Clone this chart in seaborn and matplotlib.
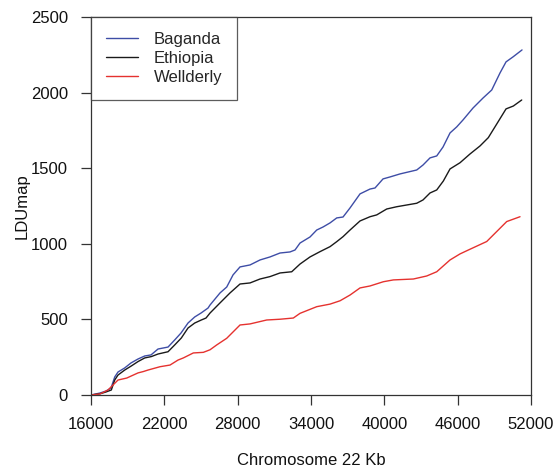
import matplotlib
matplotlib.use("Agg")
import matplotlib.pyplot as plt
import numpy as np
import pandas as pd
import seaborn as sns

# Cumulative LDU map length along chromosome 22 (kb) for three populations
baganda_kb = [16000, 16736, 17227, 17636, 17939, 18209, 18757, 19273, 19845, 20394,
              20909, 21482, 22300, 22848, 23364, 23936, 24485, 25000, 25573, 25736,
              26555, 27103, 27618, 28191, 29009, 29827, 30645, 31464, 32282, 32691,
              33100, 33918, 34467, 34982, 35555, 36103, 36618, 37191, 38009, 38827,
              39236, 39891, 40464, 41282, 42648, 43164, 43736, 44285, 44800, 45373,
              45921, 46436, 47255, 48073, 48785, 49464, 49955, 50527, 51264]
baganda_ldu = [0, 13, 26, 46, 119, 152, 179, 212, 238, 258,
               265, 304, 317, 364, 410, 476, 516, 542, 575, 595,
               675, 714, 794, 847, 860, 893, 913, 939, 946, 959,
               1005, 1045, 1091, 1111, 1138, 1171, 1177, 1237, 1330, 1362,
               1369, 1429, 1442, 1462, 1488, 1521, 1568, 1581, 1640, 1733,
               1773, 1819, 1898, 1964, 2017, 2130, 2203, 2236, 2282]

ethiopia_kb = [16000, 16736, 17227, 17661, 17939, 18209, 18757, 19297, 19845, 20394,
               20934, 21482, 22300, 22848, 23389, 23936, 24485, 25025, 25409, 25736,
               26555, 27373, 28191, 29009, 29827, 30645, 31464, 32421, 33100, 33918,
               34736, 35555, 36103, 36618, 37191, 38009, 38827, 39375, 40193, 41011,
               42648, 43164, 43736, 44285, 44825, 45373, 46191, 47009, 47827, 48506,
               49194, 49955, 50552, 51239]
ethiopia_ldu = [0, 8, 20, 33, 99, 132, 165, 192, 221, 245,
                254, 271, 286, 331, 377, 443, 476, 496, 509, 542,
                609, 675, 734, 741, 767, 783, 807, 815, 866, 913,
                948, 981, 1014, 1047, 1091, 1151, 1179, 1191, 1230, 1245,
                1268, 1290, 1336, 1356, 1415, 1495, 1536, 1594, 1647, 1702,
                1792, 1892, 1911, 1951]

wellderly_kb = [16000, 16736, 17391, 17800, 18209, 18921, 19845, 20279, 20664, 21646,
                22464, 23118, 23552, 24370, 25189, 25736, 26284, 27103, 28191, 29009,
                30375, 31464, 32552, 33100, 34467, 35555, 36373, 37191, 38009, 38827,
                39918, 40736, 42373, 43464, 44285, 45373, 46191, 47009, 48375, 49194,
                50012, 51100]
wellderly_ldu = [0, 7, 33, 66, 99, 112, 146, 155, 165, 187,
                 198, 231, 245, 278, 282, 299, 331, 375, 463, 470,
                 496, 501, 509, 540, 584, 601, 623, 661, 708, 721,
                 749, 761, 767, 787, 815, 893, 933, 964, 1015, 1081,
                 1147, 1179]

populations = ["Baganda", "Ethiopia", "Wellderly"]
colors = {"Baganda": "#3E4DA6", "Ethiopia": "#1A1A1A", "Wellderly": "#E5322F"}

x_ticks = [16000, 22000, 28000, 34000, 40000, 46000, 52000]
y_ticks = [0, 500, 1000, 1500, 2000, 2500]

df = pd.concat([
    pd.DataFrame({"kb": baganda_kb, "ldu": baganda_ldu, "pop": "Baganda"}),
    pd.DataFrame({"kb": ethiopia_kb, "ldu": ethiopia_ldu, "pop": "Ethiopia"}),
    pd.DataFrame({"kb": wellderly_kb, "ldu": wellderly_ldu, "pop": "Wellderly"}),
], ignore_index=True)

sns.set_style("white")
plt.rcParams["font.family"] = ["Liberation Sans", "DejaVu Sans"]

fig = plt.figure(figsize=(5.55, 4.70), dpi=100)
ax = fig.add_axes([0.164, 0.1596, 0.7928, 0.8043])

sns.lineplot(data=df, x="kb", y="ldu", hue="pop", hue_order=populations,
             palette=colors, estimator=None, sort=False, linewidth=1.0, ax=ax)

ax.set_xlim(16000, 52000)
ax.set_ylim(0, 2500)
ax.set_xticks(x_ticks)
ax.set_xticklabels([str(t) for t in x_ticks])
ax.set_yticks(y_ticks)
ax.set_yticklabels([str(t) for t in y_ticks])

for s in ax.spines.values():
    s.set_visible(True)
    s.set_color("#333333")
    s.set_linewidth(0.9)

ax.tick_params(axis="both", which="major", direction="out", length=7.5, width=0.9,
               color="#333333", labelsize=12, labelcolor="#111111",
               bottom=True, left=True)
ax.tick_params(axis="x", pad=8)
ax.tick_params(axis="y", pad=9)

ax.set_xlabel("Chromosome 22 Kb", fontsize=12, color="#111111", va="center")
ax.set_ylabel("LDUmap", fontsize=12, color="#111111", va="center")
ax.xaxis.set_label_coords(0.5, -0.172)
ax.yaxis.set_label_coords(-0.157, 0.5)

leg = ax.legend(loc="upper left", bbox_to_anchor=(0, 1), borderaxespad=0,
                fancybox=False, frameon=True, fontsize=12, handlelength=1.95,
                handletextpad=0.95, labelspacing=0.26, borderpad=0.88, title=None)
leg.get_frame().set_edgecolor("#333333")
leg.get_frame().set_linewidth(0.9)
for line in leg.get_lines():
    line.set_linewidth(1.0)

fig.savefig("out.png", dpi=100)
